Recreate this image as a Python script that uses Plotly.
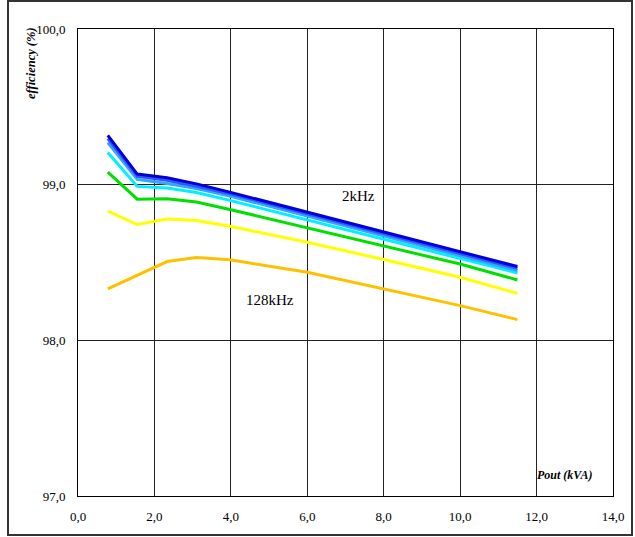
import plotly.graph_objects as go

pout_kva = [0.78, 1.55, 2.33, 3.10, 3.97, 6.0, 8.0, 10.0, 11.5]

series_names = ["2kHz", "4kHz", "8kHz", "16kHz", "32kHz", "64kHz", "128kHz"]
eff_2k = [99.317, 99.068, 99.045, 99.005, 98.952, 98.823, 98.697, 98.572, 98.474]
eff_4k = [99.296, 99.053, 99.028, 98.990, 98.942, 98.812, 98.686, 98.560, 98.462]
eff_8k = [99.270, 99.034, 99.008, 98.975, 98.927, 98.798, 98.673, 98.547, 98.448]
eff_16k = [99.206, 98.989, 98.978, 98.950, 98.899, 98.773, 98.649, 98.525, 98.433]
eff_32k = [99.081, 98.907, 98.910, 98.888, 98.841, 98.723, 98.607, 98.490, 98.388]
eff_64k = [98.830, 98.744, 98.779, 98.770, 98.733, 98.630, 98.519, 98.405, 98.302]
eff_128k = [98.330, 98.416, 98.506, 98.532, 98.517, 98.437, 98.330, 98.223, 98.133]

x_ticks = [0, 2, 4, 6, 8, 10, 12, 14]
x_tick_labels = ["0,0", "2,0", "4,0", "6,0", "8,0", "10,0", "12,0", "14,0"]
y_ticks = [97, 98, 99, 100]
y_tick_labels = ["97,0", "98,0", "99,0", "100,0"]

colors = ["#0000D8", "#3355FF", "#2FA8FF", "#00F0FF", "#00E000", "#FFFF00", "#FFC000"]
all_series = [eff_2k, eff_4k, eff_8k, eff_16k, eff_32k, eff_64k, eff_128k]

fig = go.Figure()
# draw from lowest to highest so dark blue is on top
for name, ys, c in reversed(list(zip(series_names, all_series, colors))):
    fig.add_trace(go.Scatter(x=pout_kva, y=ys, mode="lines", name=name,
                             line=dict(color=c, width=3), showlegend=False))

W, H = 635, 537
ml, mr, mt, mb = 78, 22, 29, 41
pw, ph = W - ml - mr, H - mt - mb

def px2paper_x(px):
    return (px - ml) / pw

def px2paper_y(py):
    return (H - mb - py) / ph

serif = "Liberation Serif, Times New Roman, serif"

fig.update_layout(
    width=W, height=H,
    margin=dict(l=ml, r=mr, t=mt, b=mb),
    paper_bgcolor="white", plot_bgcolor="white",
    font=dict(family=serif, size=13, color="black"),
    xaxis=dict(range=[0, 14], tickvals=x_ticks, ticktext=x_tick_labels,
               showgrid=True, gridcolor="#222222", gridwidth=1,
               showline=True, linecolor="black", linewidth=1, mirror=True,
               zeroline=False, ticks="", ticklabelstandoff=8,
               tickfont=dict(family=serif, size=13)),
    yaxis=dict(range=[97, 100], tickvals=y_ticks, ticktext=y_tick_labels,
               showgrid=True, gridcolor="#222222", gridwidth=1,
               showline=True, linecolor="black", linewidth=1, mirror=True,
               zeroline=False, ticks="", ticklabelstandoff=9,
               tickfont=dict(family=serif, size=13)),
)

fig.add_shape(type="rect", xref="paper", yref="paper",
              x0=px2paper_x(8), x1=px2paper_x(632),
              y0=px2paper_y(535), y1=px2paper_y(1),
              line=dict(color="#333333", width=2), fillcolor="rgba(0,0,0,0)")

fig.add_annotation(x=7.33, y=98.93, text="2kHz", showarrow=False,
                   xanchor="center", yanchor="middle",
                   font=dict(family=serif, size=15, color="black"))
fig.add_annotation(x=5.02, y=98.26, text="128kHz", showarrow=False,
                   xanchor="center", yanchor="middle",
                   font=dict(family=serif, size=15, color="black"))
fig.add_annotation(xref="paper", yref="paper", x=px2paper_x(564), y=px2paper_y(475),
                   text="<b><i>Pout (kVA)</i></b>", showarrow=False,
                   xanchor="center", yanchor="middle",
                   font=dict(family=serif, size=12, color="black"))
fig.add_annotation(xref="paper", yref="paper", x=px2paper_x(31), y=px2paper_y(63),
                   text="<b><i>efficiency (%)</i></b>", showarrow=False, textangle=-90,
                   xanchor="center", yanchor="middle",
                   font=dict(family=serif, size=12.5, color="black"))

fig.write_html("out.html")
